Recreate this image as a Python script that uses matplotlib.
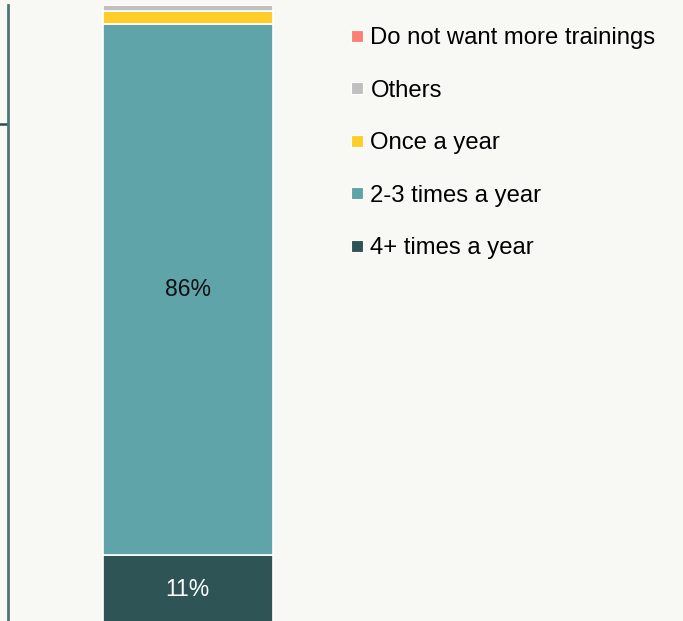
import matplotlib
matplotlib.use("Agg")
import matplotlib.pyplot as plt
from matplotlib.lines import Line2D

plt.rcParams["font.family"] = ["Liberation Sans", "DejaVu Sans"]

# training frequency shares (%), stacked bottom to top
categories = ["4+ times a year", "2-3 times a year", "Once a year", "Others",
              "Do not want more trainings"]
shares = [11, 86, 2, 1, 0]
colors = ["#2e5456", "#5fa4a8", "#ffcd2a", "#c0c0c0", "#fb7f76"]
text_colors = ["white", "#111111", "#111111", "#111111", "#111111"]

bg = "#f8f8f4"
W, H = 683, 621
fig = plt.figure(figsize=(W / 100, H / 100), dpi=100, facecolor=bg)
ax = fig.add_axes([7.5 / W, (H - 623) / H, 1 - 7.5 / W, 618 / H])
ax.set_facecolor(bg)

bottom = 0
for cat, val, col, tc in zip(categories, shares, colors, text_colors):
    ax.bar(0, val, width=1, bottom=bottom, color=col, edgecolor="white",
           linewidth=1.2)
    if val >= 5:
        ax.text(0, bottom + val / 2, f"{val}%", ha="center", va="center",
                fontsize=16.5, color=tc)
    bottom += val

ax.set_xlim(-0.5 - 95 / 170, -0.5 - 95 / 170 + 675 / 170)
ax.set_ylim(0, 100)

for s in ["top", "right", "bottom"]:
    ax.spines[s].set_visible(False)
ax.spines["left"].set_color("#4f7576")
ax.spines["left"].set_linewidth(2)
ax.set_xticks([])
ax.set_yticks([80.7])
ax.set_yticklabels([""])
ax.tick_params(axis="y", length=9, width=1.8, color="#2d4b4c")

handles = [Line2D([], [], linestyle="none", marker="s", markersize=8.5,
                  markerfacecolor=c, markeredgecolor="white",
                  markeredgewidth=0.8) for c in colors]
fig.legend(handles[::-1], categories[::-1], loc="upper left",
           bbox_to_anchor=(337 / W, 1 - 15 / H), frameon=False,
           fontsize=17.2, handlelength=0.7, handletextpad=0.2,
           labelspacing=1.28, borderpad=0)

fig.savefig("out.png", dpi=100, facecolor=bg)
